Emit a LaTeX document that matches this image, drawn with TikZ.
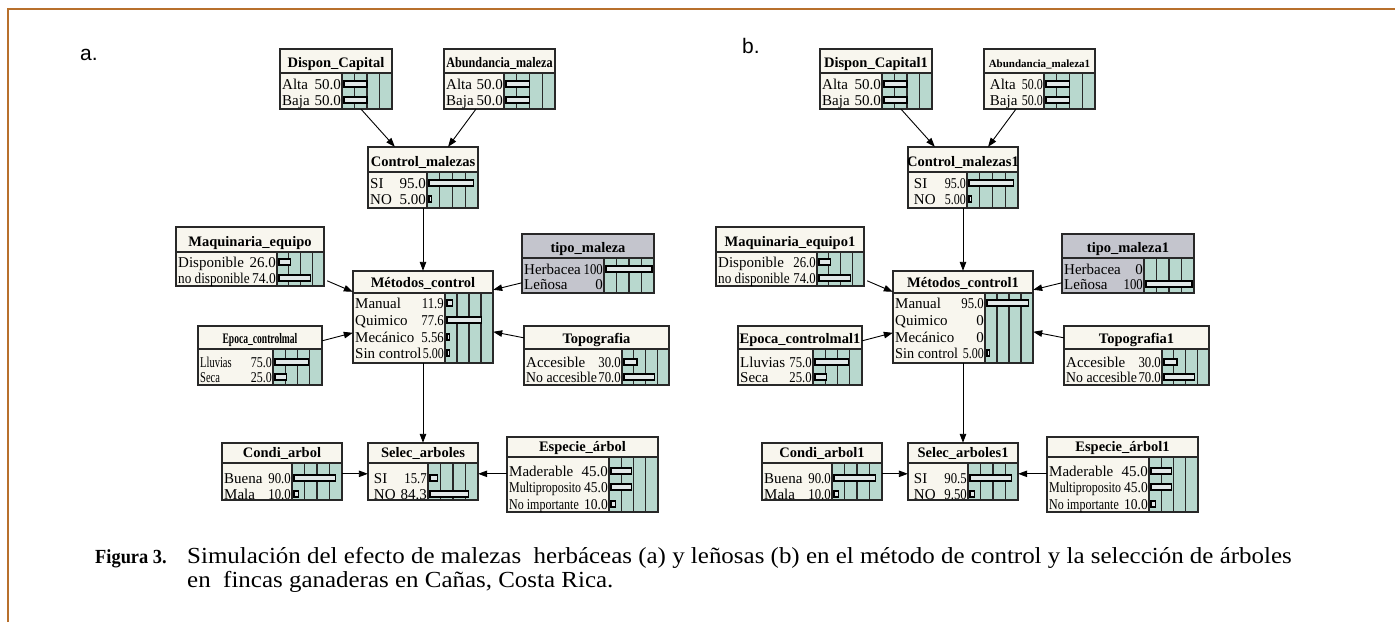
\documentclass[tikz,border=0pt]{standalone}
\usepackage{fontspec}
\setmainfont{Liberation Serif}
\newfontfamily\labfont{Liberation Sans}
\usetikzlibrary{arrows.meta,fit,calc}
\definecolor{framec}{RGB}{184,112,44}
\definecolor{hdrc}{RGB}{248,246,238}
\definecolor{greyc}{RGB}{196,197,205}
\definecolor{tealc}{RGB}{184,216,206}
\definecolor{linec}{RGB}{40,40,40}
\definecolor{barc}{RGB}{225,232,232}
\tikzset{
  boxline/.style={draw=linec, line width=1.2pt},
  colline/.style={draw=linec, line width=1.1pt},
  hdrtext/.style={font=\bfseries\fontsize{14.5}{14.5}\selectfont, inner sep=0pt},
  rowtext/.style={font=\fontsize{15}{15}\selectfont, inner sep=0pt},
  barrect/.style={draw=black, line width=1.2pt, fill=barc},
  arr/.style={draw=black, line width=0.9pt, -{Triangle[length=9pt,width=6.5pt]}},
  captext/.style={font=\fontsize{23}{24}\selectfont, inner sep=0pt, anchor=base west},
  panellab/.style={font=\labfont\fontsize{21}{21}\selectfont, inner sep=0pt, anchor=base west}
}
% optional fill, name, x1, x2, xs, yt, yh, yb, title
\newcommand{\bnbox}[9][hdrc]{%
  \fill[#1] (#3,#6) rectangle (#4,#8);
  \fill[tealc] (#5,#7) rectangle (#4,#8);
  \foreach \k in {1,2,3}{\draw[colline] ({#5+\k*(#4-#5)/4},#7) -- ({#5+\k*(#4-#5)/4},#8);}
  \draw[boxline] (#5,#7) -- (#5,#8);
  \draw[boxline] (#3,#7) -- (#4,#7);
  \draw[boxline] (#3,#6) rectangle (#4,#8);
  \node[hdrtext, anchor=base] at ({(#3+#4)/2},{#7-5.5}) {#9};
  \node[fit={(#3,#6) (#4,#8)}, inner sep=0pt] (#2) {};
}
% x1, xs, y, label, value
\newcommand{\bnrow}[5]{%
  \node[rowtext, anchor=base west] at ({#1+2},{#3+5}) {#4};
  \node[rowtext, anchor=base east] at ({#2-1},{#3+5}) {#5};
}
% xs, x2, y, frac
\newcommand{\bnbar}[4]{%
  \draw[barrect] ({#1+2},{#3-3}) rectangle ({#1+2+max(#4*(#2-#1-4),2)},{#3+3});
}
\newcommand{\sq}[2]{\scalebox{#1}[1]{#2}}
\begin{document}
\begin{tikzpicture}[x=1pt,y=-1pt]
\useasboundingbox (0,0) rectangle (1395,622);
\fill[white] (0,0) rectangle (1395,622);
\draw[framec, line width=2pt] (8,622) -- (8,9) -- (1395,9);

% ================= panel a =================
\node[panellab] (labA) at (80,60) {a.};

\bnbox{dispA}{280}{392}{342}{49}{73}{109}{Dispon\_Capital}
\bnrow{280}{342}{84}{Alta}{50.0}\bnbar{342}{392}{84}{0.5}
\bnrow{280}{342}{100}{Baja}{50.0}\bnbar{342}{392}{100}{0.5}

\bnbox{abunA}{444}{555}{504}{49}{73}{109}{\sq{0.84}{Abundancia\_maleza}}
\bnrow{444}{504}{84}{Alta}{50.0}\bnbar{504}{555}{84}{0.5}
\bnrow{444}{504}{100}{Baja}{50.0}\bnbar{504}{555}{100}{0.5}

\bnbox{ctrlA}{368}{478}{427}{147}{172}{208}{Control\_malezas}
\bnrow{368}{427}{183}{SI}{95.0}\bnbar{427}{478}{183}{0.95}
\bnrow{368}{427}{199}{NO}{5.00}\bnbar{427}{478}{199}{0.05}

\bnbox{maqA}{176}{324}{277}{227}{252}{286}{Maquinaria\_equipo}
\bnrow{176}{277}{262}{Disponible}{26.0}\bnbar{277}{324}{262}{0.26}
\bnrow{176}{277}{278}{\sq{0.88}{no disponible}}{\sq{0.9}{74.0}}\bnbar{277}{324}{278}{0.74}

\bnbox[greyc]{tipoA}{522}{654}{604}{234}{258}{293}{tipo\_maleza}
\bnrow{522}{604}{269}{Herbacea}{\sq{0.85}{100}}\bnbar{604}{654}{269}{1.0}
\bnrow{522}{604}{284}{Leñosa}{0}

\bnbox{metA}{353}{493}{445}{271}{293}{363}{Métodos\_control}
\bnrow{353}{445}{303}{Manual}{\sq{0.85}{11.9}}\bnbar{445}{493}{303}{0.119}
\bnrow{353}{445}{320}{Quimico}{\sq{0.85}{77.6}}\bnbar{445}{493}{320}{0.776}
\bnrow{353}{445}{337}{Mecánico}{\sq{0.85}{5.56}}\bnbar{445}{493}{337}{0.0556}
\bnrow{353}{445}{353}{Sin control}{\sq{0.8}{5.00}}\bnbar{445}{493}{353}{0.05}

\bnbox{epoA}{198}{322}{273}{326}{349}{385}{\sq{0.66}{Epoca\_controlmal}}
\bnrow{198}{273}{362}{\sq{0.7}{Lluvias}}{\sq{0.8}{75.0}}\bnbar{273}{322}{362}{0.75}
\bnrow{198}{273}{377}{\sq{0.7}{Seca}}{\sq{0.8}{25.0}}\bnbar{273}{322}{377}{0.25}

\bnbox{topoA}{524}{669}{622}{326}{349}{385}{Topografia}
\bnrow{524}{622}{362}{Accesible}{\sq{0.85}{30.0}}\bnbar{622}{669}{362}{0.30}
\bnrow{524}{622}{377}{\sq{0.92}{No accesible}}{\sq{0.85}{70.0}}\bnbar{622}{669}{377}{0.70}

\bnbox{condA}{222}{342}{292}{443}{463}{500}{Condi\_arbol}
\bnrow{222}{292}{478}{Buena}{\sq{0.85}{90.0}}\bnbar{292}{342}{478}{0.90}
\bnrow{222}{292}{494}{Mala}{\sq{0.85}{10.0}}\bnbar{292}{342}{494}{0.10}

\bnbox{selA}{368}{478}{428}{443}{463}{500}{Selec\_arboles}
\bnrow{368}{428}{478}{\ SI}{\sq{0.85}{15.7}}\bnbar{428}{478}{478}{0.157}
\bnrow{368}{428}{494}{\ NO}{84.3}\bnbar{428}{478}{494}{0.843}

\bnbox{espA}{507}{658}{609}{437}{457}{512}{Especie\_árbol}
\bnrow{507}{609}{471}{Maderable}{45.0}\bnbar{609}{658}{471}{0.45}
\bnrow{507}{609}{487}{\sq{0.8}{Multiproposito}}{\sq{0.9}{45.0}}\bnbar{609}{658}{487}{0.45}
\bnrow{507}{609}{504}{\sq{0.8}{No importante}}{\sq{0.9}{10.0}}\bnbar{609}{658}{504}{0.10}

\draw[arr] ($(dispA.south west)!0.723!(dispA.south east)$) -- ($(ctrlA.north west)!0.245!(ctrlA.north east)$);
\draw[arr] ($(abunA.south west)!0.288!(abunA.south east)$) -- ($(ctrlA.north west)!0.727!(ctrlA.north east)$);
\draw[arr] (ctrlA.south) -- (metA.north);
\draw[arr] ($(maqA.north east)+(3,54)$) -- ($(metA.north west)+(0,21)$);
\draw[arr] ($(tipoA.north west)+(0,49)$) -- ($(metA.north east)+(0,19)$);
\draw[arr] ($(epoA.north east)+(0,15)$) -- ($(metA.north west)+(0,62)$);
\draw[arr] ($(topoA.north west)+(0,12)$) -- ($(metA.north east)+(0,61)$);
\draw[arr] (metA.south) -- (selA.north);
\draw[arr] ($(condA.north east)+(0,31)$) -- ($(selA.north west)+(0,31)$);
\draw[arr] ($(espA.north west)+(0,37)$) -- ($(selA.north east)+(0,31)$);

% ================= panel b =================
\begin{scope}[xshift=540pt]
\node[panellab] (labB) at (202,53) {b.};

\bnbox{dispB}{280}{392}{342}{49}{73}{109}{Dispon\_Capital1}
\bnrow{280}{342}{84}{Alta}{50.0}\bnbar{342}{392}{84}{0.5}
\bnrow{280}{342}{100}{Baja}{50.0}\bnbar{342}{392}{100}{0.5}

\bnbox{abunB}{444}{555}{504}{49}{73}{109}{\fontsize{11}{11}\selectfont Abundancia\_maleza1}
\bnrow{444}{504}{84}{\ Alta}{\sq{0.8}{50.0}}\bnbar{504}{555}{84}{0.5}
\bnrow{444}{504}{100}{\ Baja}{\sq{0.8}{50.0}}\bnbar{504}{555}{100}{0.5}

\bnbox{ctrlB}{368}{478}{427}{147}{172}{208}{Control\_malezas1}
\bnrow{368}{427}{183}{\ SI}{\sq{0.8}{95.0}}\bnbar{427}{478}{183}{0.95}
\bnrow{368}{427}{199}{\ NO}{\sq{0.8}{5.00}}\bnbar{427}{478}{199}{0.05}

\bnbox{maqB}{176}{324}{277}{227}{252}{286}{Maquinaria\_equipo1}
\bnrow{176}{277}{262}{Disponible}{\sq{0.85}{26.0}}\bnbar{277}{324}{262}{0.26}
\bnrow{176}{277}{278}{\sq{0.88}{no disponible}}{\sq{0.85}{74.0}}\bnbar{277}{324}{278}{0.74}

\bnbox[greyc]{tipoB}{522}{654}{604}{234}{258}{293}{tipo\_maleza1}
\bnrow{522}{604}{269}{Herbacea}{0}
\bnrow{522}{604}{284}{Leñosa}{\sq{0.85}{100}}\bnbar{604}{654}{284}{1.0}

\bnbox{metB}{353}{493}{445}{271}{293}{363}{Métodos\_control1}
\bnrow{353}{445}{303}{Manual}{\sq{0.85}{95.0}}\bnbar{445}{493}{303}{0.95}
\bnrow{353}{445}{320}{Quimico}{0}
\bnrow{353}{445}{337}{Mecánico}{0}
\bnrow{353}{445}{353}{\sq{0.95}{Sin control}}{\sq{0.8}{5.00}}\bnbar{445}{493}{353}{0.05}

\bnbox{epoB}{198}{322}{273}{326}{349}{385}{Epoca\_controlmal1}
\bnrow{198}{273}{362}{Lluvias}{\sq{0.85}{75.0}}\bnbar{273}{322}{362}{0.75}
\bnrow{198}{273}{377}{Seca}{\sq{0.85}{25.0}}\bnbar{273}{322}{377}{0.25}

\bnbox{topoB}{524}{669}{622}{326}{349}{385}{Topografia1}
\bnrow{524}{622}{362}{Accesible}{\sq{0.85}{30.0}}\bnbar{622}{669}{362}{0.30}
\bnrow{524}{622}{377}{\sq{0.92}{No accesible}}{\sq{0.85}{70.0}}\bnbar{622}{669}{377}{0.70}

\bnbox{condB}{222}{342}{292}{443}{463}{500}{Condi\_arbol1}
\bnrow{222}{292}{478}{Buena}{\sq{0.85}{90.0}}\bnbar{292}{342}{478}{0.90}
\bnrow{222}{292}{494}{Mala}{\sq{0.85}{10.0}}\bnbar{292}{342}{494}{0.10}

\bnbox{selB}{368}{478}{428}{443}{463}{500}{Selec\_arboles1}
\bnrow{368}{428}{478}{\ SI}{\sq{0.85}{90.5}}\bnbar{428}{478}{478}{0.905}
\bnrow{368}{428}{494}{\ NO}{\sq{0.85}{9.50}}\bnbar{428}{478}{494}{0.095}

\bnbox{espB}{507}{658}{609}{437}{457}{512}{Especie\_árbol1}
\bnrow{507}{609}{471}{Maderable}{45.0}\bnbar{609}{658}{471}{0.45}
\bnrow{507}{609}{487}{\sq{0.8}{Multiproposito}}{\sq{0.9}{45.0}}\bnbar{609}{658}{487}{0.45}
\bnrow{507}{609}{504}{\sq{0.8}{No importante}}{\sq{0.9}{10.0}}\bnbar{609}{658}{504}{0.10}

\draw[arr] ($(dispB.south west)!0.723!(dispB.south east)$) -- ($(ctrlB.north west)!0.245!(ctrlB.north east)$);
\draw[arr] ($(abunB.south west)!0.288!(abunB.south east)$) -- ($(ctrlB.north west)!0.727!(ctrlB.north east)$);
\draw[arr] (ctrlB.south) -- (metB.north);
\draw[arr] ($(maqB.north east)+(3,54)$) -- ($(metB.north west)+(0,21)$);
\draw[arr] ($(tipoB.north west)+(0,49)$) -- ($(metB.north east)+(0,19)$);
\draw[arr] ($(epoB.north east)+(0,15)$) -- ($(metB.north west)+(0,62)$);
\draw[arr] ($(topoB.north west)+(0,12)$) -- ($(metB.north east)+(0,61)$);
\draw[arr] (metB.south) -- (selB.north);
\draw[arr] ($(condB.north east)+(0,31)$) -- ($(selB.north west)+(0,31)$);
\draw[arr] ($(espB.north west)+(0,37)$) -- ($(selB.north east)+(0,31)$);
\end{scope}

% ================= caption =================
\node[captext, font=\bfseries\fontsize{20}{24}\selectfont] (figlab) at (95,563) {\sq{0.92}{Figura 3.}};
\node[captext] (cap1) at (187,563) {\sq{1.085}{Simulación del efecto de malezas \ herbáceas (a) y leñosas (b) en el método de control y la selección de árboles}};
\node[captext] (cap2) at (187,587) {\sq{1.085}{en \ fincas ganaderas en Cañas, Costa Rica.}};
\end{tikzpicture}
\end{document}
